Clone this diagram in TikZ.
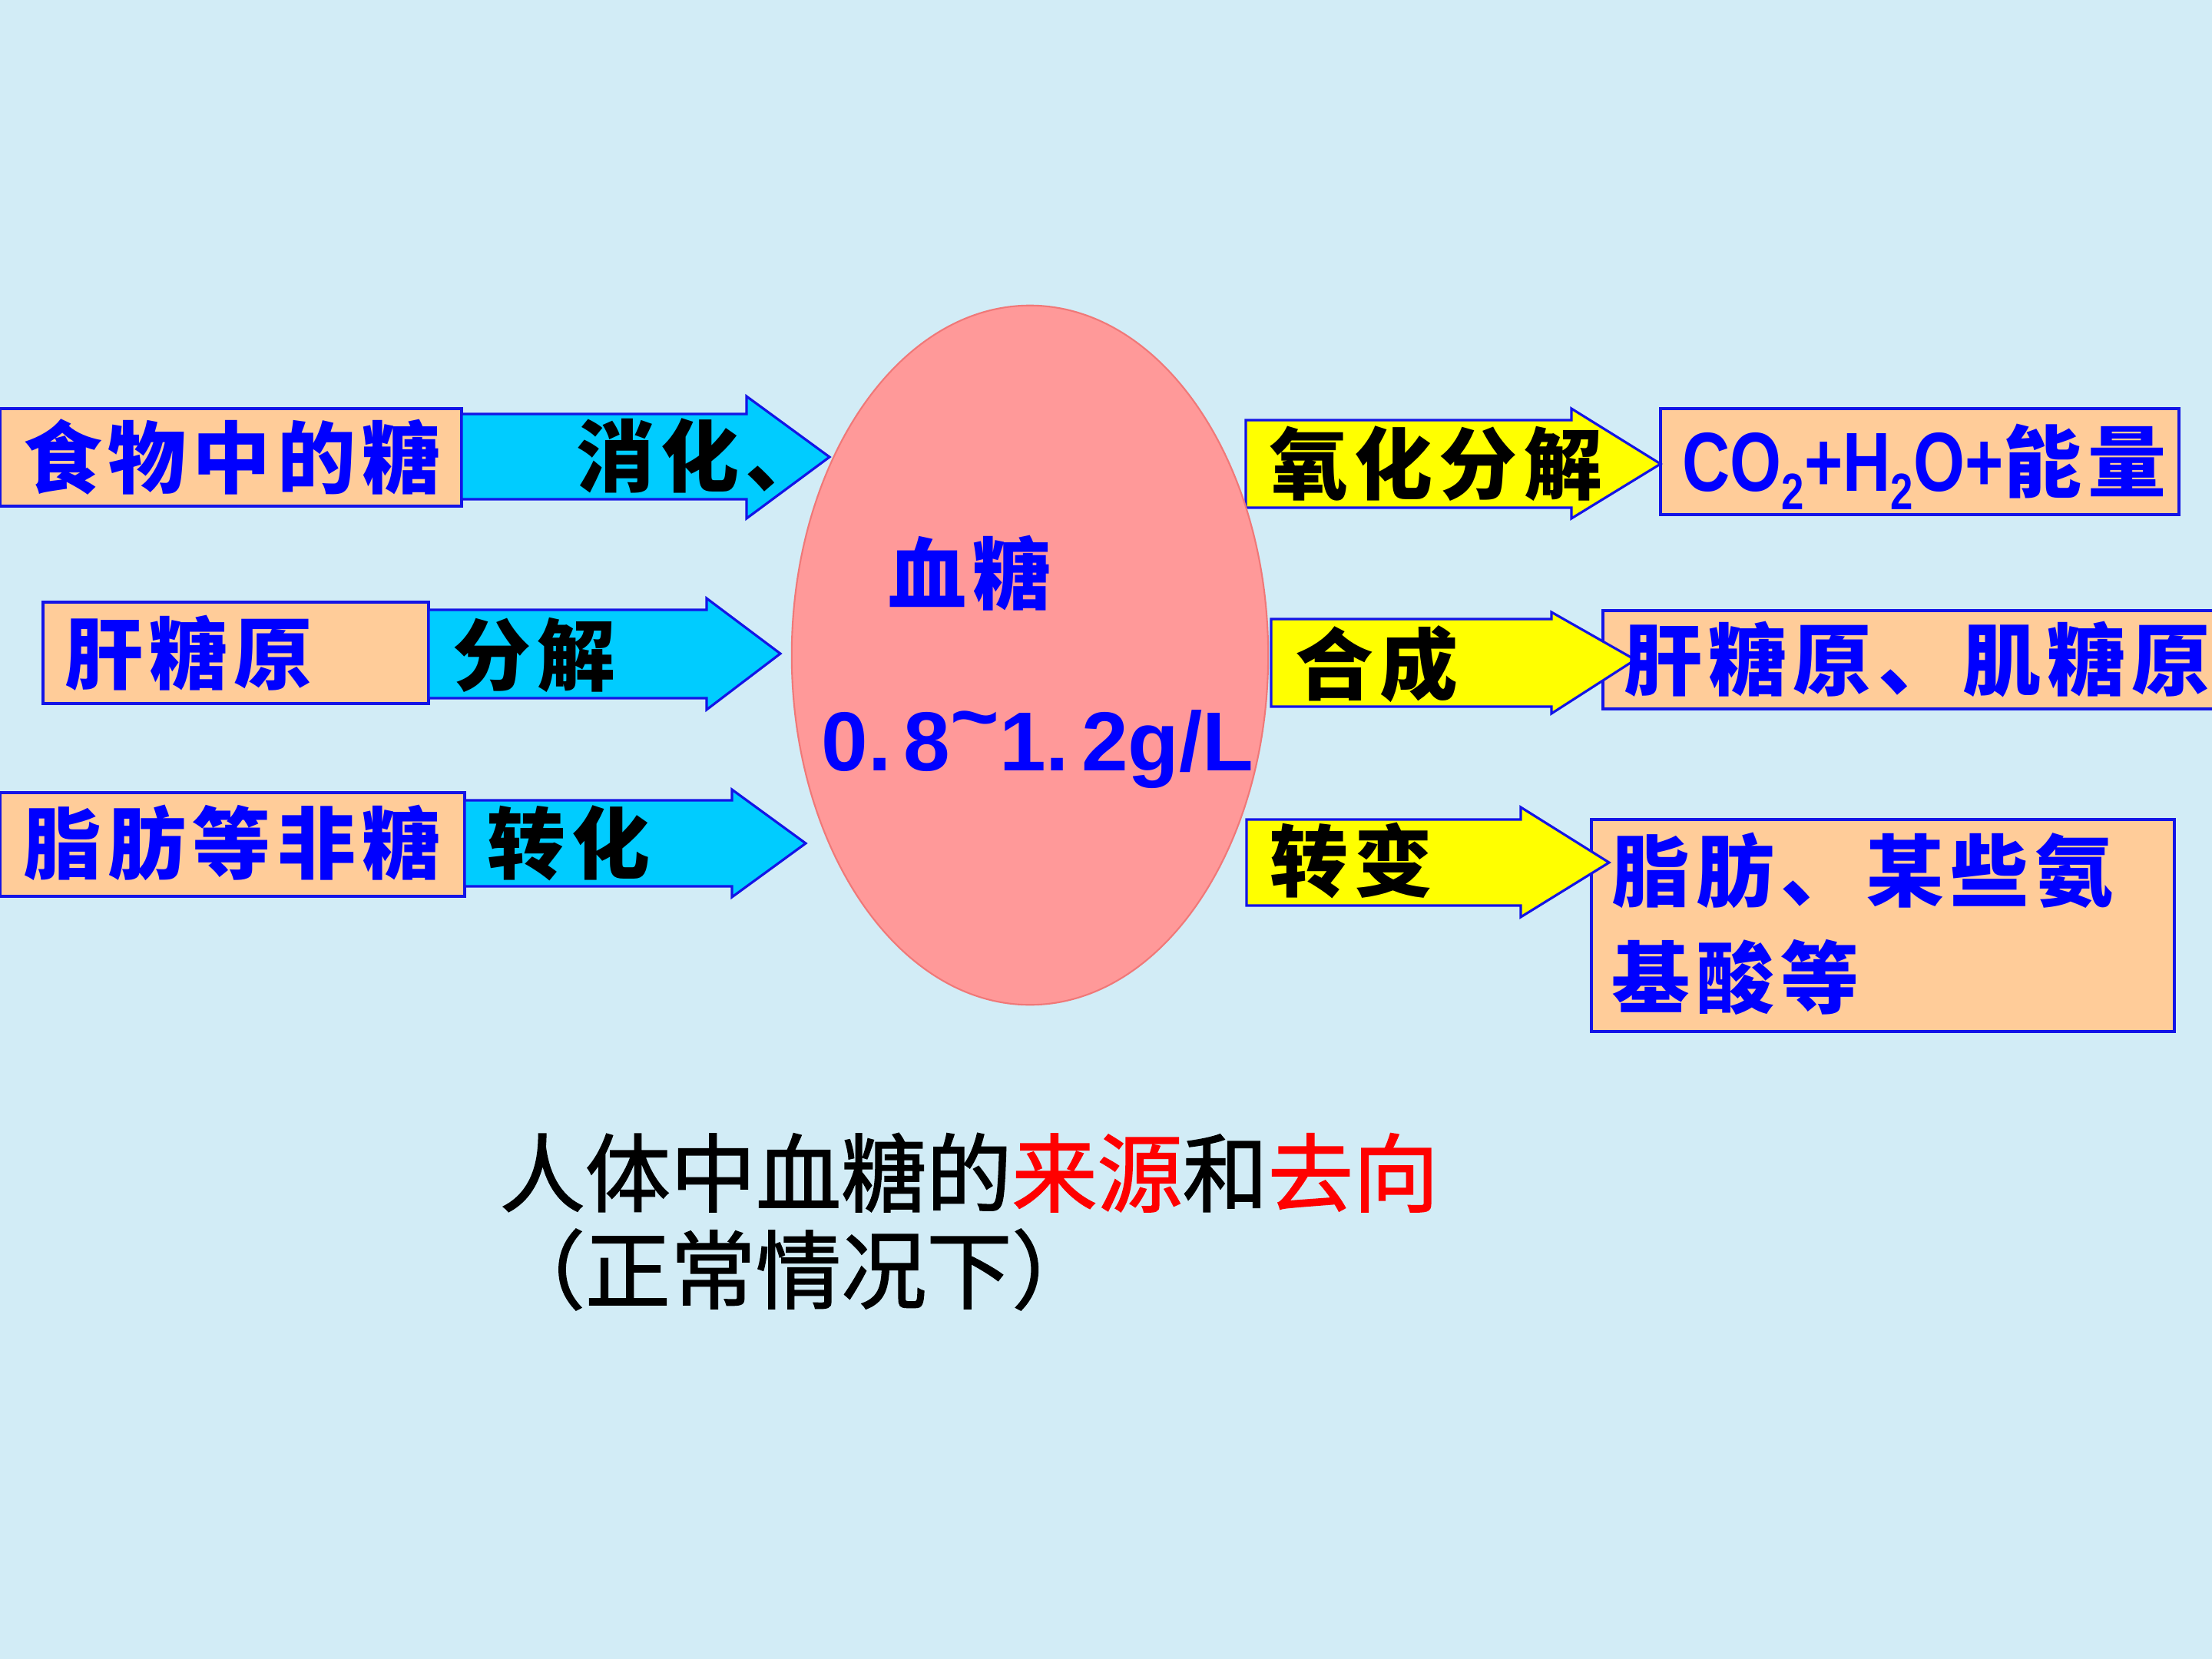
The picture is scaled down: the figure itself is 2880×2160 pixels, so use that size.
\documentclass[tikz,border=0pt]{standalone}
\usepackage{fontspec}
\usepackage{graphicx}
\usetikzlibrary{shapes.geometric}
\newfontfamily\cjk[LetterSpace=8]{Noto Sans CJK SC}
\newfontfamily\cjkcap[FakeBold=1.5]{Noto Sans CJK SC}
\newfontfamily\lat{Liberation Sans}
\definecolor{bg}{RGB}{210,236,246}
\definecolor{peach}{RGB}{255,204,153}
\definecolor{cyanf}{RGB}{0,204,255}
\definecolor{yel}{RGB}{255,255,0}
\definecolor{pinkf}{RGB}{255,153,153}
\definecolor{pinkd}{RGB}{240,120,120}
\definecolor{edge}{RGB}{20,20,230}
\definecolor{txtblue}{RGB}{0,0,255}
\newcommand\lblfont{\cjk\bfseries\fontsize{29pt}{35pt}\selectfont}
\newcommand\capfont{\cjkcap\fontsize{31.6pt}{38pt}\selectfont}
\newcommand\subtwo{\raisebox{-0.22em}{\fontsize{19pt}{19pt}\selectfont 2}}
\newcommand\barrow[9]{\filldraw[blk, fill=#1] (#2,#5) -- (#3,#5) -- (#3,#7) -- (#4,#9) -- (#3,#8) -- (#3,#6) -- (#2,#6) -- cycle;}
\tikzset{
  box/.style={draw=edge, fill=peach, line width=0.9pt},
  blk/.style={draw=edge, line width=0.9pt, line join=miter},
  lbl/.style={inner sep=0pt, anchor=west, font=\lblfont, text height=24pt, text depth=2pt},
  srclbl/.style={lbl, text=txtblue},
  arrlbl/.style={lbl, text=black},
  caption/.style={inner sep=0pt, anchor=west, font=\capfont, text height=26.2pt, text depth=2.2pt},
}
\begin{document}
\begin{tikzpicture}[x=0.01cm, y=-0.01cm]
\useasboundingbox (0,0) rectangle (2880,2160);
\clip (0,0) rectangle (2880,2160);
\fill[bg] (0,0) rectangle (2880,2160);

% left source boxes
\draw[box] (0,532) rectangle (601,659);
\node[srclbl] (food) at (30,596) {食物中的糖};
\draw[box] (56,784) rectangle (558,916);
\node[srclbl] (liver) at (84,851) {肝糖原};
\draw[box] (0,1032) rectangle (605,1167);
\node[srclbl] (fat) at (30,1098) {脂肪等非糖};

% left block arrows
\barrow{cyanf}{601}{972}{1080}{539}{650}{516}{675}{595}
\barrow{cyanf}{558}{920}{1016}{794}{909}{779}{924}{851}
\barrow{cyanf}{605}{953}{1049}{1042}{1154}{1028}{1168}{1098}
\node[arrlbl] (digest) at (750,594) {消化、};
\node[arrlbl] (decomp) at (589,853) {分解};
\node[arrlbl] (conv) at (634,1098) {转化};

% right boxes
\draw[box] (2162,532) rectangle (2837,670);
\draw[box] (2087,795) rectangle (2920,923);
\draw[box] (2072,1067) rectangle (2831,1343);

% right block arrows
\barrow{yel}{1622}{2046}{2162}{547}{661}{532}{675}{604}
\barrow{yel}{1655}{2020}{2129}{806}{920}{797}{929}{859}
\barrow{yel}{1623}{1980}{2095}{1067}{1179}{1051}{1194}{1123}
\node[arrlbl] (oxid) at (1653,604) {氧化分解};
\node[arrlbl] (synth) at (1686,865) {合成};
\node[arrlbl] (trans) at (1653,1121) {转变};

\node[srclbl] (energy) at (2190,601) {{\lat\bfseries\fontsize{31pt}{36pt}\selectfont\scalebox{0.79}[1]{CO\subtwo+H\subtwo O+}}能量};
\node[srclbl] (glyc) at (2114,859) {肝糖原、肌糖原};
\node[srclbl] (amino1) at (2098,1134) {脂肪、某些氨};
\node[srclbl] (amino2) at (2098,1273) {基酸等};

% central ellipse
\node[ellipse, minimum width=6.2cm, minimum height=9.1cm, fill=pinkf, draw=pinkd, line width=0.6pt] (blood) at (1341,853) {};
\node[lbl, anchor=center, text=txtblue] (bloodlbl) at (1263,747) {血糖};
\node[inner sep=0pt, text=txtblue, font=\lat\bfseries\fontsize{31pt}{36pt}\selectfont, text height=22.2pt, text depth=0pt] (range) at (1351,964) {0.\hspace{0.15em}8\raisebox{0.3em}{\textasciitilde}1.\hspace{0.15em}2g/L};

% caption
\node[caption] (cap1) at (650,1527) {人体中血糖的\textcolor{red}{来源}和\textcolor{red}{去向}};
\node[caption] (cap2) at (650,1653) {（正常情况下）};
\end{tikzpicture}
\end{document}
